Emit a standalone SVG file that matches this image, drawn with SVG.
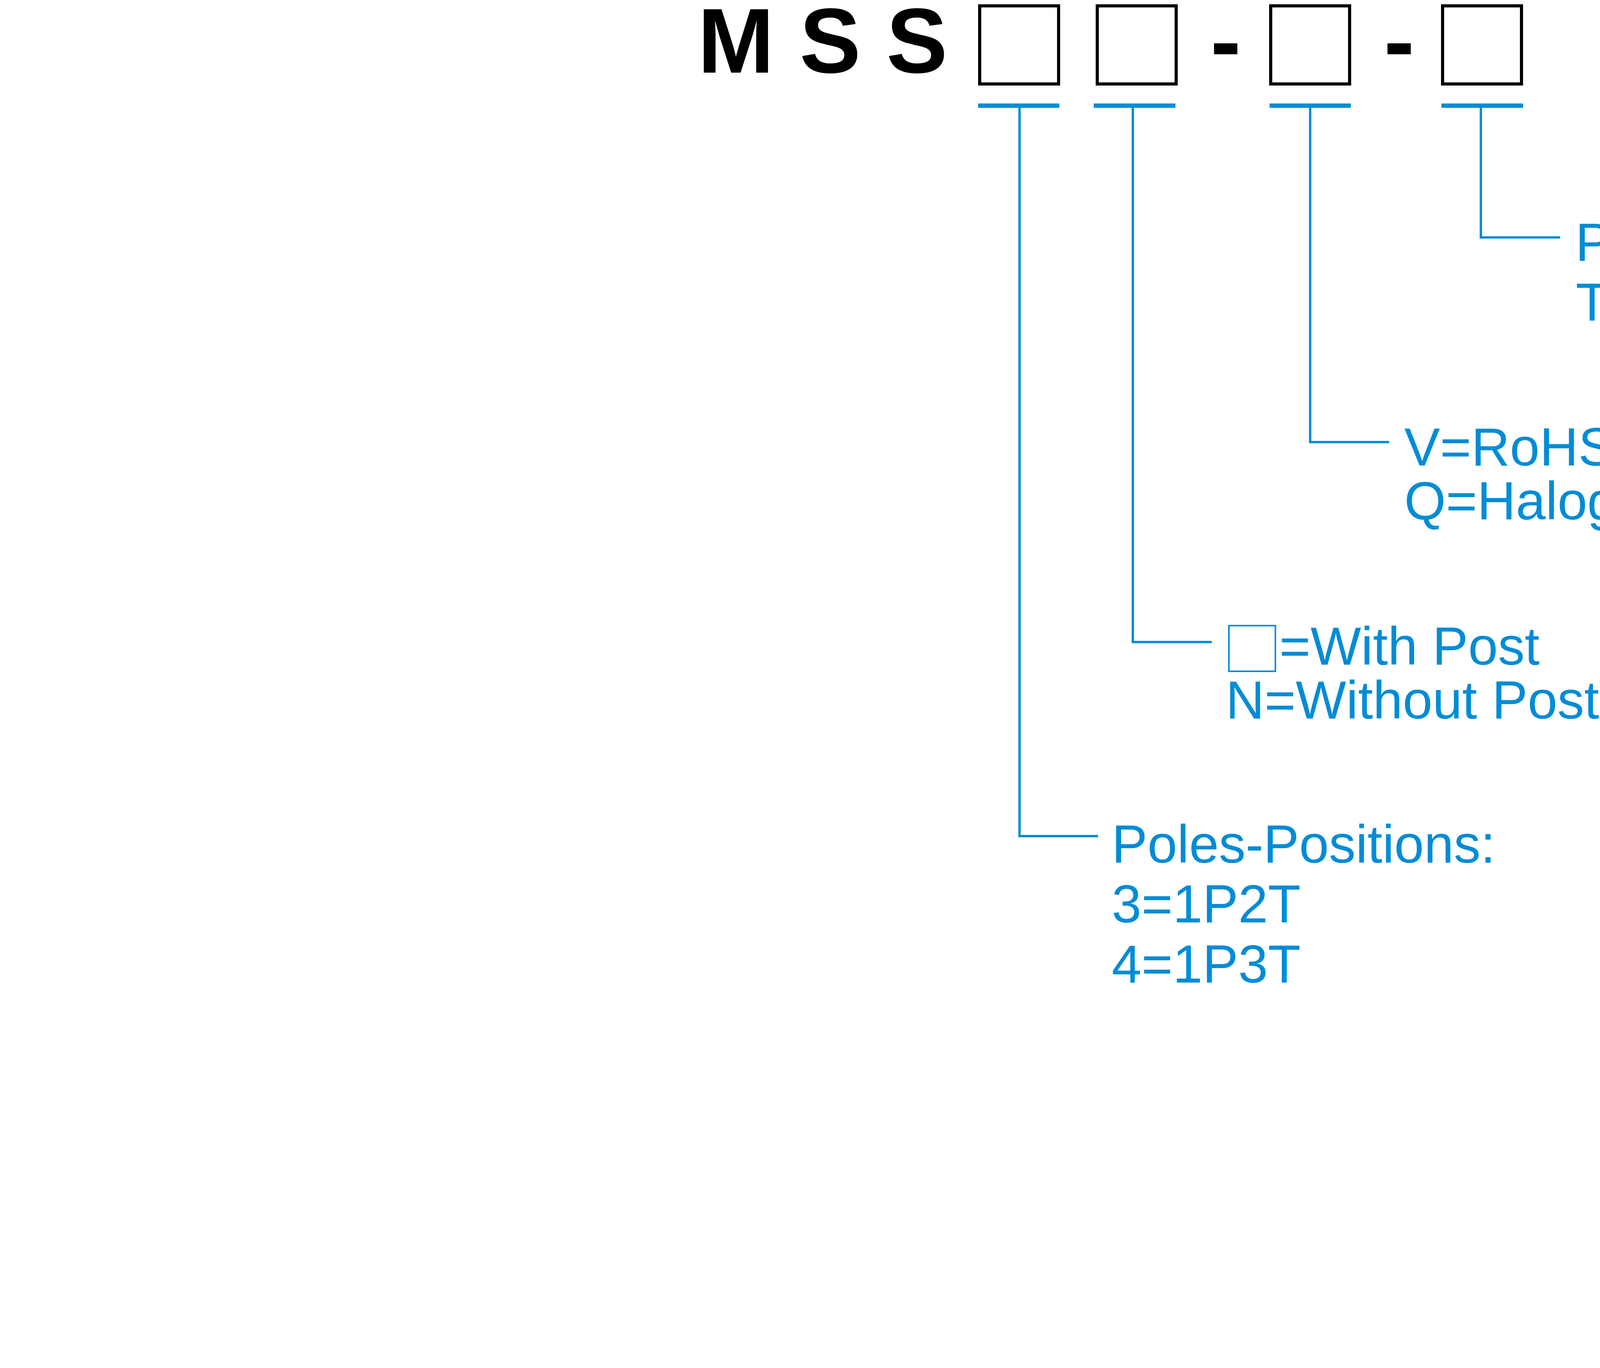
<svg xmlns="http://www.w3.org/2000/svg" width="5705" height="3503" viewBox="0 0 5705 3503">
<style>
.title{font-family:"Liberation Sans",Arial,sans-serif;font-weight:bold;font-size:235px;fill:#000}
.lbl{font-family:"Liberation Sans",Arial,sans-serif;font-size:137px;fill:#008CD6}
.slot{fill:none;stroke:#000;stroke-width:8}
.bar{fill:#008CD6}
.wire{fill:none;stroke:#008CD6;stroke-width:6}
</style>
<rect width="5705" height="3503" fill="#fff"/>
<g id="part-number">
<text class="title" x="1786" y="186">M S S</text>
<rect class="slot" x="2508" y="15" width="202" height="200"/>
<rect class="slot" x="2809" y="15" width="202" height="200"/>
<text class="title" x="3138" y="186" text-anchor="middle">-</text>
<rect class="slot" x="3253" y="15" width="202" height="200"/>
<text class="title" x="3582" y="186" text-anchor="middle">-</text>
<rect class="slot" x="3693" y="15" width="202" height="200"/>
</g>
<g id="connectors">
<rect class="bar" x="2504" y="265" width="208" height="11"/>
<rect class="bar" x="2800" y="265" width="209" height="11"/>
<rect class="bar" x="3250" y="265" width="208" height="11"/>
<rect class="bar" x="3690" y="265" width="209" height="11"/>
<polyline class="wire" points="2610,270 2610,2141 2811,2141"/>
<polyline class="wire" points="2900,270 2900,1644 3102,1644"/>
<polyline class="wire" points="3354,270 3354,1132 3556,1132"/>
<polyline class="wire" points="3791,270 3791,608 3994,608"/>
</g>
<g id="package">
<text class="lbl" x="4033" y="668">Package:</text>
<text class="lbl" x="4034" y="821">T/R=Tape &amp; Reel</text>
</g>
<g id="compliance">
<text class="lbl" x="3595" y="1192">V=RoHS &amp; Lead Free Solderable</text>
<text class="lbl" x="3595" y="1330">Q=Halogen Free</text>
</g>
<g id="post">
<rect x="3146" y="1602" width="119" height="117" fill="none" stroke="#008CD6" stroke-width="4"/>
<text class="lbl" x="3275" y="1702">=With Post</text>
<text class="lbl" x="3138" y="1840">N=Without Post (Only For MSS3 Type)</text>
</g>
<g id="poles">
<text class="lbl" x="2846" y="2209">Poles-Positions:</text>
<text class="lbl" x="2846" y="2362">3=1P2T</text>
<text class="lbl" x="2846" y="2516">4=1P3T</text>
</g>
</svg>
